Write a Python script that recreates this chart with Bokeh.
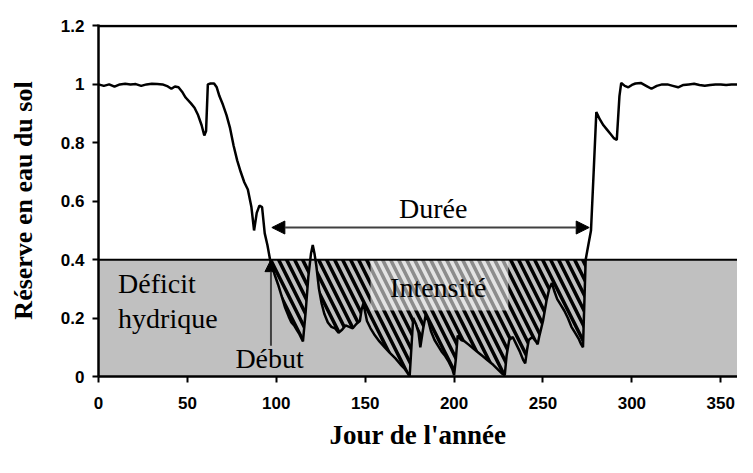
import numpy as np
from bokeh.plotting import figure
from bokeh.models import Span, BoxAnnotation, Label, Arrow, NormalHead, FixedTicker
from bokeh.embed import file_html
from bokeh.resources import INLINE

# ---- data ----
days = [0, 3, 6, 9, 12, 15, 18, 21, 24, 27, 30, 33, 36, 39, 41, 43, 45, 47, 49, 52,
        54, 56, 58, 59.5, 60.5, 61.5, 63, 65, 66.5, 68, 70, 72, 74, 76, 78, 80, 82, 84,
        86, 87.5, 89, 90.5, 92, 93.5, 95, 96.5, 99, 101, 103, 105, 107, 108.5, 110,
        111.5, 113, 115, 116.5, 118, 119.5, 120.5, 121.5, 122.5, 124, 125.5, 127, 129,
        131, 133, 135, 137, 139, 141, 143, 145, 147, 148, 149, 150, 151, 153, 155, 158,
        161, 164, 167, 170, 172, 174, 175, 176, 177, 178.5, 180, 181, 182.5, 184, 185.5,
        187, 189, 191, 193, 195, 197, 199, 200, 201, 202, 204, 206, 208, 210, 213, 216,
        219, 222, 225, 227, 228.5, 229.5, 231, 233, 235, 237, 239, 240, 241, 242, 244,
        246, 247, 248, 250, 252, 253.5, 255, 256.5, 258, 260, 262, 264, 266, 268, 270,
        271.5, 272.5, 274, 275.5, 277, 278.5, 280, 282, 284, 286, 288, 290, 291.5, 293,
        294, 296, 298, 300, 302, 305, 308, 311, 314, 317, 320, 323, 326, 329, 332, 335,
        338, 341, 344, 347, 350, 353, 356, 359, 362, 365]
reserve = [1.000, 0.995, 1.000, 0.992, 1.000, 1.002, 1.000, 1.001, 0.995, 1.000, 1.002,
           1.001, 1.000, 0.993, 0.985, 0.993, 0.990, 0.975, 0.955, 0.935, 0.920, 0.895,
           0.860, 0.825, 0.840, 1.000, 1.003, 1.003, 0.990, 0.960, 0.930, 0.895, 0.850,
           0.790, 0.740, 0.700, 0.665, 0.640, 0.580, 0.500, 0.560, 0.585, 0.580, 0.490,
           0.450, 0.400, 0.350, 0.315, 0.275, 0.235, 0.205, 0.185, 0.175, 0.160, 0.145,
           0.120, 0.220, 0.340, 0.420, 0.450, 0.420, 0.380, 0.300, 0.250, 0.215, 0.185,
           0.170, 0.165, 0.150, 0.160, 0.175, 0.170, 0.165, 0.180, 0.190, 0.230, 0.250,
           0.220, 0.190, 0.165, 0.145, 0.120, 0.100, 0.080, 0.062, 0.040, 0.028, 0.010,
           0.000, 0.100, 0.200, 0.180, 0.150, 0.100, 0.160, 0.210, 0.190, 0.155, 0.125,
           0.105, 0.085, 0.070, 0.050, 0.025, 0.005, 0.060, 0.140, 0.125, 0.120, 0.110,
           0.100, 0.085, 0.070, 0.055, 0.040, 0.022, 0.010, 0.005, 0.070, 0.125, 0.135,
           0.110, 0.085, 0.055, 0.045, 0.090, 0.125, 0.135, 0.120, 0.110, 0.140, 0.190,
           0.260, 0.300, 0.320, 0.290, 0.265, 0.245, 0.225, 0.200, 0.170, 0.150, 0.130,
           0.110, 0.100, 0.400, 0.450, 0.500, 0.700, 0.905, 0.880, 0.860, 0.845, 0.830,
           0.815, 0.810, 0.960, 1.005, 0.995, 0.990, 0.998, 1.003, 1.005, 0.995, 0.985,
           0.995, 1.000, 1.000, 0.995, 0.990, 0.998, 1.000, 1.002, 0.998, 0.995, 0.998,
           1.000, 1.000, 0.998, 1.000, 1.000, 0.997, 1.000]
threshold = 0.4
deficit_start = 96.5
deficit_end = 274
y_top = 1.2
x_ticks = [0, 50, 100, 150, 200, 250, 300, 350]
y_ticks = [0, 0.2, 0.4, 0.6, 0.8, 1.0, 1.2]
y_tick_labels = ["0", "0.2", "0.4", "0.6", "0.8", "1", "1.2"]

d = np.array(days)
r = np.array(reserve)

p = figure(width=737, height=457, output_backend="svg", toolbar_location=None,
           x_range=(0, 359.4), y_range=(0, 1.205),
           min_border_left=98, min_border_right=0, min_border_top=24, min_border_bottom=81)
p.grid.visible = False
p.outline_line_color = None
p.background_fill_color = "white"

# gray deficit zone
p.add_layout(BoxAnnotation(bottom=0, top=threshold, fill_color="#c0c0c0", fill_alpha=1,
                           line_color=None, level="underlay"))

# hatched intensity area
m = (d >= deficit_start) & (d <= deficit_end)
p.varea(x=d[m], y1=np.minimum(r[m], threshold), y2=threshold, fill_alpha=0,
        hatch_pattern="left_diagonal_line", hatch_color="black", hatch_scale=16,
        hatch_weight=3.5)

# light box behind "Intensité"
p.quad(left=153, right=230.5, bottom=0.226, top=threshold, fill_color="white",
       fill_alpha=0.55, line_color=None)

p.add_layout(Span(location=threshold, dimension="width", line_color="black", line_width=2))
p.add_layout(Span(location=y_top, dimension="width", line_color="black", line_width=2.5))

p.line(d, r, line_color="black", line_width=2.5)

# axes
xa = p.below[0]
ya = p.left[0]
for ax in (xa, ya):
    ax.axis_line_width = 2.5
    ax.major_tick_line_width = 2
    ax.major_tick_out = 6
    ax.major_tick_in = 0
    ax.minor_tick_line_color = None
    ax.major_label_text_font = "Liberation Sans"
    ax.major_label_text_font_style = "bold"
    ax.major_label_text_font_size = "17px"
    ax.major_label_text_color = "black"
    ax.axis_label_text_font = "Liberation Serif"
    ax.axis_label_text_font_style = "bold"
    ax.axis_label_text_color = "black"

xa.ticker = FixedTicker(ticks=x_ticks)
ya.ticker = FixedTicker(ticks=y_ticks)
ya.major_label_overrides = {t: l for t, l in zip(y_ticks, y_tick_labels)}
xa.axis_label = "Jour de l'année"
ya.axis_label = "Réserve en eau du sol"
xa.axis_label_text_font_size = "27px"
ya.axis_label_text_font_size = "26px"
xa.major_label_standoff = 14
xa.axis_label_standoff = 8
ya.major_label_standoff = 8
ya.axis_label_standoff = 20

# annotations
font = "Liberation Serif"
def lab(x, y, t):
    p.add_layout(Label(x=x, y=y, text=t, text_font=font, text_font_size="28px",
                       text_color="black", text_baseline="middle", text_align="left"))

lab(11, 0.32, "Déficit")
lab(11, 0.198, "hydrique")
lab(77, 0.062, "Début")
lab(169, 0.574, "Durée")
lab(164, 0.304, "Intensité")

p.add_layout(Arrow(start=NormalHead(size=13, fill_color="black", line_color="black"),
                   end=NormalHead(size=13, fill_color="black", line_color="black"),
                   x_start=97.5, y_start=0.51, x_end=276, y_end=0.51,
                   line_color="#404040", line_width=2))
p.add_layout(Arrow(end=NormalHead(size=12, fill_color="black", line_color="black"),
                   x_start=97, y_start=0.105, x_end=97, y_end=threshold,
                   line_color="#404040", line_width=2))

open("out.html", "w").write(file_html(p, INLINE))
